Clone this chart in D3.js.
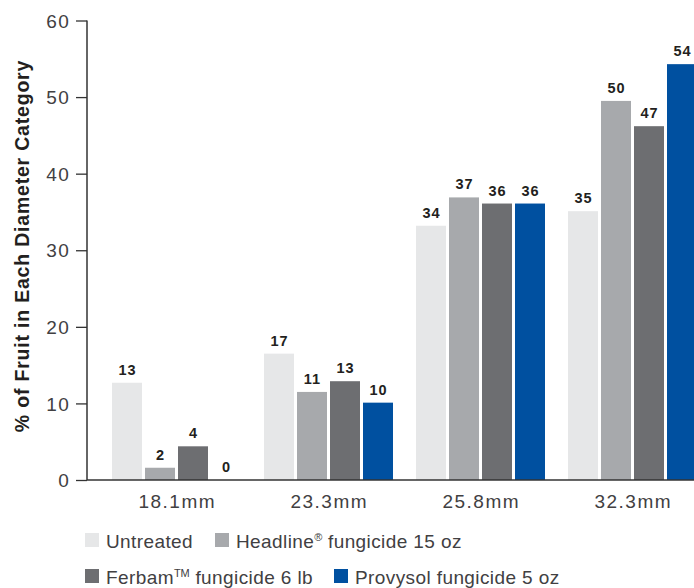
<!DOCTYPE html>
<html>
<head>
<meta charset="utf-8">
<script src="https://cdn.jsdelivr.net/npm/d3@7"></script>
<style>
  body { margin: 0; background: #fff; }
  svg { display: block; font-family: "Liberation Sans", Arial, Helvetica, sans-serif; }
</style>
</head>
<body>
<svg id="chart" width="694" height="588"></svg>
<script>
// Дані графіка
const categories = ['18.1mm', '23.3mm', '25.8mm', '32.3mm'];
const seriesNames = ['Untreated', 'Headline', 'Ferbam', 'Provysol'];
const untreated = [12.7, 16.5, 33.2, 35.1];
const headline = [1.6, 11.5, 36.9, 49.5];
const ferbam = [4.4, 12.9, 36.1, 46.2];
const provysol = [0, 10.1, 36.1, 54.3];
const barLabels = [
  ['13', '17', '34', '35'],
  ['2', '11', '37', '50'],
  ['4', '13', '36', '47'],
  ['0', '10', '36', '54']
];
const yTicks = [0, 10, 20, 30, 40, 50, 60];
const colors = ['#e6e7e8', '#a7a9ac', '#6d6e71', '#0050a0'];

const series = [untreated, headline, ferbam, provysol];

const svg = d3.select('#chart');

const margin = { left: 87, top: 20, bottom: 480 };

const xScale = d3.scaleBand()
  .domain(categories)
  .range([100.5, 708.5])
  .paddingInner(23 / 152)
  .paddingOuter(23 / 152 / 2);

const xInner = d3.scaleBand()
  .domain(seriesNames)
  .range([0, xScale.bandwidth()])
  .paddingInner(3 / 33);

const yScale = d3.scaleLinear().domain([0, 60]).range([margin.bottom, 20.5]);

// Вісь Y
const yAxis = svg.append('g')
  .attr('transform', `translate(${margin.left}, 0)`)
  .call(d3.axisLeft(yScale).tickValues(yTicks).tickSize(11).tickPadding(6));

yAxis.select('.domain').style('stroke', '#333').style('stroke-width', 1.5)
  .attr('d', `M0,${yScale(60)}V${margin.bottom}`);
yAxis.selectAll('.tick line').style('stroke', '#333').style('stroke-width', 1.3);
yAxis.selectAll('.tick text')
  .style('fill', '#414042')
  .style('font-size', '19px')
  .style('letter-spacing', '1.3px')
  .attr('dy', '0.35em');

// Стовпчики
seriesNames.forEach((name, si) => {
  svg.append('g')
    .selectAll('rect')
    .data(series[si])
    .enter()
    .append('rect')
    .attr('x', (d, i) => xScale(categories[i]) + xInner(name))
    .attr('y', d => yScale(d))
    .attr('width', xInner.bandwidth())
    .attr('height', d => yScale(0) - yScale(d))
    .style('fill', colors[si]);

  svg.append('g')
    .selectAll('text')
    .data(series[si])
    .enter()
    .append('text')
    .attr('x', (d, i) => xScale(categories[i]) + xInner(name) + xInner.bandwidth() / 2 + 0.5)
    .attr('y', d => yScale(d) - 8)
    .attr('text-anchor', 'middle')
    .style('font-size', '14.5px')
    .style('font-weight', 'bold')
    .style('letter-spacing', '1px')
    .style('fill', '#231f20')
    .text((d, i) => barLabels[si][i]);
});

// Вісь X
svg.append('line')
  .attr('x1', margin.left)
  .attr('x2', 694)
  .attr('y1', margin.bottom)
  .attr('y2', margin.bottom)
  .style('stroke', '#333')
  .style('stroke-width', 1.5);

svg.append('g')
  .selectAll('text')
  .data(categories)
  .enter()
  .append('text')
  .attr('x', d => xScale(d) + xScale.bandwidth() / 2 + 0.75)
  .attr('y', 508)
  .attr('text-anchor', 'middle')
  .style('fill', '#414042')
  .style('font-size', '19px')
  .style('letter-spacing', '1.5px')
  .text(d => d);

// Підпис осі Y
svg.append('text')
  .attr('transform', `translate(29, 246) rotate(-90)`)
  .attr('text-anchor', 'middle')
  .style('font-size', '19.5px')
  .style('font-weight', 'bold')
  .style('letter-spacing', '0.8px')
  .style('fill', '#231f20')
  .text('% of Fruit in Each Diameter Category');

// Легенда
const legendItems = [
  { x: 85, y: 533, parts: [['Untreated']] },
  { x: 215, y: 533, parts: [['Headline'], ['®', 'sup'], [' fungicide 15 oz']] },
  { x: 85, y: 569, parts: [['Ferbam'], ['TM', 'sup'], [' fungicide 6 lb']] },
  { x: 334, y: 569, parts: [['Provysol fungicide 5 oz']] }
];

legendItems.forEach((item, i) => {
  svg.append('rect')
    .attr('x', item.x)
    .attr('y', item.y)
    .attr('width', 14)
    .attr('height', 14)
    .style('fill', colors[i]);

  const t = svg.append('text')
    .attr('x', item.x + 21)
    .attr('y', item.y + 15)
    .style('font-size', '19px')
    .style('letter-spacing', '0.4px')
    .style('fill', '#414042');

  item.parts.forEach(p => {
    const ts = t.append('tspan').text(p[0]);
    if (p[1] === 'sup') {
      ts.style('font-size', '11px').attr('dy', -7).style('letter-spacing', '0px');
    } else if (t.selectAll('tspan').size() > 1) {
      ts.attr('dy', 7);
    }
  });
});
</script>
</body>
</html>
